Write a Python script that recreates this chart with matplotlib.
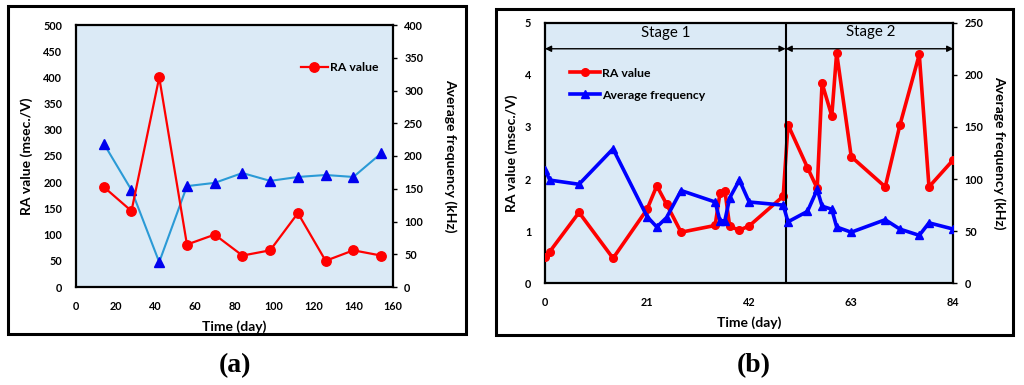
import matplotlib
matplotlib.use("Agg")
import matplotlib.pyplot as plt
from matplotlib.patches import Rectangle

plt.rcParams['font.family'] = ['Lato', 'DejaVu Sans']

# ---------------- data ----------------
days_a = [14, 28, 42, 56, 70, 84, 98, 112, 126, 140, 154]
ra_a = [191, 145, 400, 81, 100, 60, 70, 141, 50, 70, 60]
freq_a = [219, 148, 38, 154, 159, 174, 162, 168, 171, 168, 204]

days_b = [0, 1, 7, 14, 21, 23, 25, 28, 35, 36, 37, 38, 40, 42, 49,
          50, 54, 56, 57, 59, 60, 63, 70, 73, 77, 79, 84]
ra_b = [0.51, 0.61, 1.36, 0.48, 1.42, 1.87, 1.52, 0.98, 1.11, 1.73, 1.78, 1.09, 1.02, 1.10, 1.67,
        3.04, 2.22, 1.82, 3.84, 3.21, 4.42, 2.43, 1.85, 3.03, 4.39, 1.85, 2.37]
freq_b = [109, 99, 95, 129, 64, 54, 63, 89, 78, 60, 60, 82, 99, 78, 75,
          59, 69, 90, 74, 71, 54, 49, 61, 52, 46, 58, 52]

xticks_a = [0, 20, 40, 60, 80, 100, 120, 140, 160]
yticks_a_left = [0, 50, 100, 150, 200, 250, 300, 350, 400, 450, 500]
yticks_a_right = [0, 50, 100, 150, 200, 250, 300, 350, 400]
xticks_b = [0, 21, 42, 63, 84]
yticks_b_left = [0, 1, 2, 3, 4, 5]
yticks_b_right = [0, 50, 100, 150, 200, 250]
stage_split = 49.5
stage_labels = ["Stage 1", "Stage 2"]

BG = '#dbeaf6'
TICK_FS = 7.8
LAB_FS = 10
LEG_FS = 8.8

fig = plt.figure(figsize=(10.24, 3.85), dpi=100)

# panel frames
fig.patches.append(Rectangle((8/1024, 1-334/385), (466-8)/1024, (334-6)/385,
                             transform=fig.transFigure, fill=False, lw=2.2, ec='black'))
fig.patches.append(Rectangle((496/1024, 1-335/385), (1013-496)/1024, (335-9)/385,
                             transform=fig.transFigure, fill=False, lw=2.2, ec='black'))


def style_axes(ax, ax2):
    ax.set_facecolor(BG)
    for s in ax.spines.values():
        s.set_linewidth(1.6)
        s.set_color('black')
    for s in ax2.spines.values():
        s.set_visible(False)
    ax.tick_params(axis='y', length=0, pad=10, labelsize=TICK_FS)
    ax.tick_params(axis='x', length=0, pad=10, labelsize=TICK_FS)
    ax2.tick_params(axis='y', length=3, width=1, direction='out', pad=5, labelsize=TICK_FS)
    for lab in ax.get_xticklabels() + ax.get_yticklabels() + ax2.get_yticklabels():
        lab.set_fontweight('bold')


# ---------------- panel (a) ----------------
axa = fig.add_axes([76/1024, 1-287/385, 317/1024, 262/385])
axa2 = axa.twinx()
axa.set_xlim(0, 160)
axa.set_ylim(0, 500)
axa2.set_ylim(0, 400)
axa.set_xticks(xticks_a)
axa.set_yticks(yticks_a_left)
axa2.set_yticks(yticks_a_right)
axa2.plot(days_a, freq_a, color='#2a9ad6', lw=1.5, marker='^', ms=6.8,
          mfc='#0000ee', mec='#0000ee', zorder=3)
axa2.patch.set_visible(False)
# RA drawn on the left-axis scale, above the frequency line
axa_ra = axa.twinx()
axa_ra.set_ylim(0, 500)
axa_ra.axis('off')
line_ra_a, = axa_ra.plot(days_a, ra_a, color='#ff0000', lw=1.6, marker='o', ms=6.8,
                         mfc='#ff0000', mec='#ff0000', label='RA value', zorder=4)
style_axes(axa, axa2)
axa.set_xlabel('Time (day)', fontsize=LAB_FS, fontweight='bold', labelpad=6)
axa.set_ylabel('RA value (msec./V)', fontsize=LAB_FS, fontweight='bold', labelpad=7)
axa2.set_ylabel('Average frequency (kHz)', fontsize=LAB_FS, fontweight='bold',
                rotation=-90, labelpad=24)
axa_ra.legend(handles=[line_ra_a], loc='upper right', bbox_to_anchor=(0.99, 0.90),
              frameon=False, handlelength=2.2, handletextpad=0.2,
              prop={'weight': 'bold', 'size': LEG_FS})

# ---------------- panel (b) ----------------
axb = fig.add_axes([545/1024, 1-283.3/385, 408.3/1024, 260.6/385])
axb2 = axb.twinx()
axb.set_xlim(0, 84)
axb.set_ylim(0, 5)
axb2.set_ylim(0, 250)
axb.set_xticks(xticks_b)
axb.set_yticks(yticks_b_left)
axb2.set_yticks(yticks_b_right)
line_fr_b, = axb2.plot(days_b, freq_b, color='#0000ff', lw=2.6, marker='^', ms=5.5,
                       mfc='#0000ff', mec='#0000ff', label='Average frequency', zorder=3)
axb2.patch.set_visible(False)
line_ra_b, = axb.plot(days_b, ra_b, color='#ff0000', lw=2.6, marker='o', ms=5.5,
                      mfc='#ff0000', mec='#ff0000', label='RA value', zorder=3)
style_axes(axb, axb2)
axb.axvline(stage_split, color='black', lw=1.5, zorder=5)
arrow_kw = dict(arrowstyle='<|-|>', color='black', lw=1.0, mutation_scale=9,
                shrinkA=0, shrinkB=0)
axb.annotate('', xy=(0, 4.5), xytext=(stage_split, 4.5), arrowprops=arrow_kw, zorder=6)
axb.annotate('', xy=(stage_split, 4.5), xytext=(84, 4.5), arrowprops=arrow_kw, zorder=6)
axb.text(stage_split / 2, 4.8, stage_labels[0], ha='center', va='center', fontsize=10.8)
axb.text((stage_split + 84) / 2 + 0.3, 4.82, stage_labels[1], ha='center', va='center',
         fontsize=10.8)
axb.set_xlabel('Time (day)', fontsize=LAB_FS, fontweight='bold', labelpad=6)
axb.set_ylabel('RA value (msec./V)', fontsize=LAB_FS, fontweight='bold', labelpad=5)
axb2.set_ylabel('Average frequency (kHz)', fontsize=LAB_FS, fontweight='bold',
                rotation=-90, labelpad=16)
axb2.legend(handles=[line_ra_b, line_fr_b], loc='upper left', bbox_to_anchor=(0.035, 0.87),
            frameon=False, handlelength=2.4, handletextpad=0.2, labelspacing=0.9,
            prop={'weight': 'bold', 'size': LEG_FS})

# panel labels
fig.text(235/1024, 1-366/385, '(a)', ha='center', va='center', fontsize=20,
         fontweight='bold', family='Liberation Serif')
fig.text(754/1024, 1-366/385, '(b)', ha='center', va='center', fontsize=20,
         fontweight='bold', family='Liberation Serif')

fig.savefig('out.png', dpi=100)
